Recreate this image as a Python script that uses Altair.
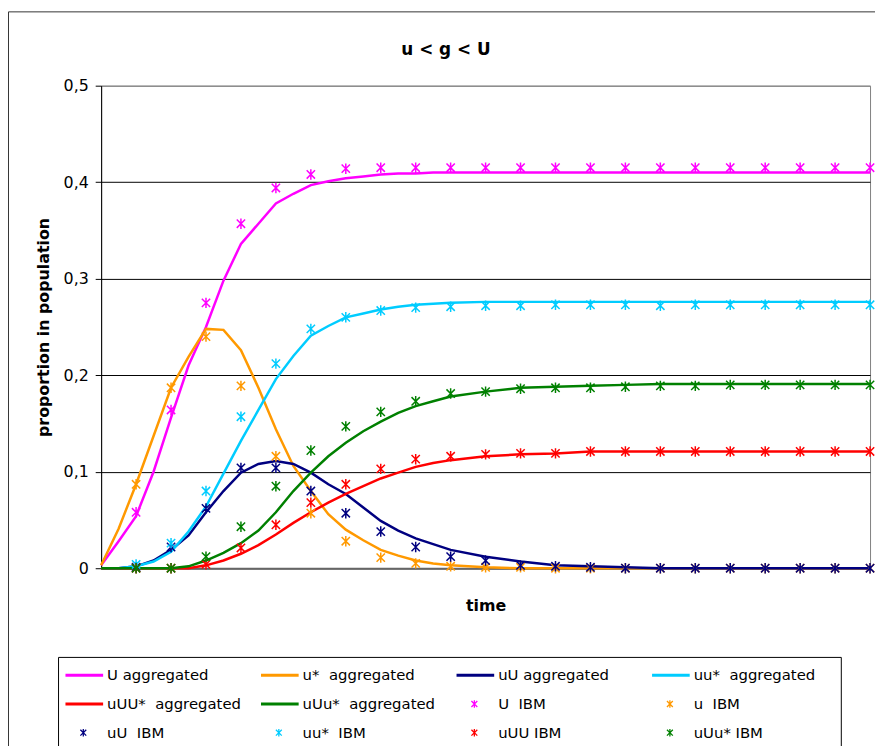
import altair as alt
import pandas as pd

FONT = "DejaVu Sans"

TITLE = "u < g < U"
SERIES = ["U", "u*", "uU", "uu*", "uUU*", "uUu*"]
COLORS = ["#FF00FF", "#FF9900", "#000080", "#00CCFF", "#FF0000", "#008000"]

# time grid of the aggregated (model) curves
T_LINE = [0, 0.5, 1, 1.5, 2, 2.5, 3, 3.5, 4, 4.5, 5, 5.5, 6, 6.5, 7, 7.5, 8, 8.5, 9, 9.5, 10,
          11, 12, 13, 14, 15, 16, 17, 18, 19, 20, 21, 22]

U_AGG = [0.003, 0.028, 0.054, 0.100, 0.156, 0.210, 0.250, 0.298, 0.336, 0.357, 0.378, 0.388,
         0.397, 0.401, 0.404, 0.406, 0.408, 0.409, 0.409, 0.410, 0.410,
         0.410, 0.410, 0.410, 0.410, 0.410, 0.410, 0.410, 0.410, 0.410, 0.410, 0.410, 0.410]
USTAR_AGG = [0.003, 0.041, 0.087, 0.137, 0.187, 0.219, 0.248, 0.247, 0.226, 0.187, 0.144, 0.106,
             0.080, 0.056, 0.040, 0.029, 0.019, 0.013, 0.008, 0.005, 0.003,
             0.001, 0.000, 0.000, 0.000, 0.000, 0.000, 0.000, 0.000, 0.000, 0.000, 0.000, 0.000]
UU_AGG = [0.000, 0.000, 0.002, 0.008, 0.019, 0.034, 0.058, 0.080, 0.099, 0.108, 0.111, 0.108,
          0.099, 0.087, 0.077, 0.063, 0.049, 0.039, 0.031, 0.025, 0.019,
          0.012, 0.007, 0.003, 0.002, 0.001, 0.000, 0.000, 0.000, 0.000, 0.000, 0.000, 0.000]
UUSTAR_AGG = [0.000, 0.000, 0.002, 0.007, 0.017, 0.038, 0.064, 0.098, 0.132, 0.164, 0.196, 0.220,
              0.241, 0.251, 0.260, 0.264, 0.268, 0.271, 0.273, 0.274, 0.275,
              0.276, 0.276, 0.276, 0.276, 0.276, 0.276, 0.276, 0.276, 0.276, 0.276, 0.276, 0.276]
UUUSTAR_AGG = [0.000, 0.000, 0.000, 0.000, 0.000, 0.000, 0.003, 0.008, 0.015, 0.024, 0.035, 0.047,
               0.058, 0.068, 0.077, 0.085, 0.093, 0.099, 0.105, 0.109, 0.112,
               0.116, 0.118, 0.119, 0.121, 0.121, 0.121, 0.121, 0.121, 0.121, 0.121, 0.121, 0.121]
UUUSTAR2_AGG = [0.000, 0.000, 0.000, 0.000, 0.000, 0.002, 0.008, 0.016, 0.026, 0.039, 0.058, 0.080,
                0.099, 0.116, 0.130, 0.142, 0.152, 0.161, 0.168, 0.173, 0.178,
                0.183, 0.187, 0.188, 0.189, 0.190, 0.191, 0.191, 0.191, 0.191, 0.191, 0.191, 0.191]

# individual based model (IBM) samples
T_IBM = [1, 2, 3, 4, 5, 6, 7, 8, 9, 10, 11, 12, 13, 14, 15, 16, 17, 18, 19, 20, 21, 22]
U_IBM = [0.058, 0.164, 0.275, 0.357, 0.394, 0.408, 0.414, 0.415, 0.415, 0.415, 0.415,
         0.415, 0.415, 0.415, 0.415, 0.415, 0.415, 0.415, 0.415, 0.415, 0.415, 0.415]
USTAR_IBM = [0.087, 0.187, 0.240, 0.189, 0.116, 0.057, 0.028, 0.011, 0.005, 0.002, 0.001,
             0.001, 0.000, 0.000, 0.000, 0.000, 0.000, 0.000, 0.000, 0.000, 0.000, 0.000]
UU_IBM = [0.001, 0.022, 0.062, 0.104, 0.104, 0.080, 0.057, 0.038, 0.022, 0.012, 0.008,
          0.003, 0.002, 0.001, 0.000, 0.000, 0.000, 0.000, 0.000, 0.000, 0.000, 0.000]
UUSTAR_IBM = [0.004, 0.026, 0.080, 0.157, 0.212, 0.248, 0.260, 0.267, 0.270, 0.271, 0.272,
              0.272, 0.273, 0.273, 0.273, 0.272, 0.273, 0.273, 0.273, 0.273, 0.273, 0.273]
UUU_IBM = [0.000, 0.000, 0.004, 0.021, 0.045, 0.068, 0.087, 0.103, 0.113, 0.116, 0.118,
           0.119, 0.119, 0.121, 0.121, 0.121, 0.121, 0.121, 0.121, 0.121, 0.121, 0.121]
UUUSTAR2_IBM = [0.000, 0.000, 0.012, 0.043, 0.085, 0.122, 0.147, 0.162, 0.173, 0.181, 0.183,
                0.186, 0.187, 0.187, 0.188, 0.189, 0.189, 0.190, 0.190, 0.190, 0.190, 0.190]

LEG_LABELS = ["U aggregated", "u*\u00a0 aggregated", "uU aggregated", "uu*\u00a0 aggregated",
              "uUU*\u00a0 aggregated", "uUu*\u00a0 aggregated", "U\u00a0 IBM", "u\u00a0 IBM",
              "uU\u00a0 IBM", "uu*\u00a0 IBM", "uUU IBM", "uUu* IBM"]
LEG_SERIES = ["U", "u*", "uU", "uu*", "uUU*", "uUu*", "U", "u*", "uU", "uu*", "uUU*", "uUu*"]
LEG_KIND = ["line"] * 6 + ["ibm"] * 6

AGG = [U_AGG, USTAR_AGG, UU_AGG, UUSTAR_AGG, UUUSTAR_AGG, UUUSTAR2_AGG]
IBM = [U_IBM, USTAR_IBM, UU_IBM, UUSTAR_IBM, UUU_IBM, UUUSTAR2_IBM]

line_rows = []
for s, vals in zip(SERIES, AGG):
    assert len(vals) == len(T_LINE)
    for t, v in zip(T_LINE, vals):
        line_rows.append({"series": s, "t": t, "v": v})
lines_df = pd.DataFrame(line_rows)

ibm_rows = []
for s, vals in zip(SERIES, IBM):
    assert len(vals) == len(T_IBM)
    for t, v in zip(T_IBM, vals):
        ibm_rows.append({"series": s, "t": t, "v": v})
ibm_df = pd.DataFrame(ibm_rows)

leg_df = pd.DataFrame({
    "label": LEG_LABELS,
    "series": LEG_SERIES,
    "kind": LEG_KIND,
    "col": [i % 4 for i in range(12)],
    "row": [i // 4 for i in range(12)],
})

STAR = "M-0.8,-0.8L0.8,0.8M-0.8,0.8L0.8,-0.8M0,-1L0,1"

color = alt.Color("series:N", scale=alt.Scale(domain=SERIES, range=COLORS), legend=None)

x_enc = alt.X("t:Q", scale=alt.Scale(domain=[0, 22], nice=False, zero=False),
              axis=alt.Axis(title="time", labels=False, ticks=False, grid=False,
                            domainColor="#666666", domainWidth=2,
                            titleFont=FONT, titleFontSize=16, titleFontWeight="bold",
                            titleColor="black", titlePadding=30))
y_enc = alt.Y("v:Q", scale=alt.Scale(domain=[0, 0.5], nice=False),
              axis=alt.Axis(title="proportion in population",
                            values=[0, 0.1, 0.2, 0.3, 0.4, 0.5],
                            labelExpr="datum.value == 0 ? '0' : replace(format(datum.value, '.1f'), '.', ',')",
                            labelFont=FONT, labelFontSize=16, labelColor="black", labelPadding=7,
                            tickSize=6, tickColor="black", domainColor="black",
                            grid=True,
                            gridColor={"condition": {"test": "datum.value >= 0.5", "value": "#808080"},
                                       "value": "black"},
                            titleFont=FONT, titleFontSize=16, titleFontWeight="bold",
                            titleColor="black", titlePadding=12))

lines = alt.Chart(lines_df).mark_line(strokeWidth=2.5).encode(
    x=x_enc, y=y_enc, color=color, order="t:Q")
points = alt.Chart(ibm_df).mark_point(shape=STAR, filled=False, size=110, strokeWidth=1.5,
                                      opacity=1).encode(
    x=alt.X("t:Q"), y=alt.Y("v:Q"), color=color)
main = alt.layer(lines, points)

lx = alt.X("col:O", scale=alt.Scale(type="point", domain=[0, 1, 2, 3], range=[6, 598], padding=0),
           axis=None)
ly = alt.Y("row:O", scale=alt.Scale(type="point", domain=[0, 1, 2], range=[595, 653], padding=0),
           axis=None)

leg_lines = alt.Chart(leg_df).transform_filter("datum.kind == 'line'").mark_point(
    shape="stroke", size=1444, strokeWidth=3, xOffset=-23, filled=False, opacity=1).encode(
    x=lx, y=ly, color=color)
leg_pts = alt.Chart(leg_df).transform_filter("datum.kind == 'ibm'").mark_point(
    shape=STAR, size=55, strokeWidth=1.3, xOffset=-24, filled=False, opacity=1).encode(
    x=lx, y=ly, color=color)
leg_text = alt.Chart(leg_df).mark_text(align="left", baseline="middle", font=FONT,
                                       fontSize=15, color="black").encode(
    x=lx, y=ly, text="label:N")
legend = alt.layer(leg_lines, leg_pts, leg_text)

one = pd.DataFrame({"a": [0]})
legend_box = alt.Chart(one).mark_rect(fillOpacity=0, stroke="black", strokeWidth=1).encode(
    x=alt.value(-43), x2=alt.value(747), y=alt.value(577), y2=alt.value(700))
frame = alt.Chart(one).mark_rect(fillOpacity=0, stroke="#333333", strokeWidth=1).encode(
    x=alt.value(-93.5), x2=alt.value(800), y=alt.value(-74.5), y2=alt.value(700))
title = alt.Chart(one).mark_text(text=TITLE, font=FONT, fontSize=17, fontWeight="bold",
                                 color="black", align="center", baseline="alphabetic").encode(
    x=alt.value(348), y=alt.value(-31))

chart = alt.layer(frame, legend_box, title, main, legend).resolve_scale(
    x="independent", y="independent"
).properties(
    width=776, height=487,
    autosize=alt.AutoSizeParams(type="none"),
    padding={"left": 94, "top": 75, "right": 5, "bottom": 176},
    background="white",
).configure_view(stroke="#808080", strokeWidth=1)

chart.save("out.html", embed_options={"renderer": "svg", "actions": False})
